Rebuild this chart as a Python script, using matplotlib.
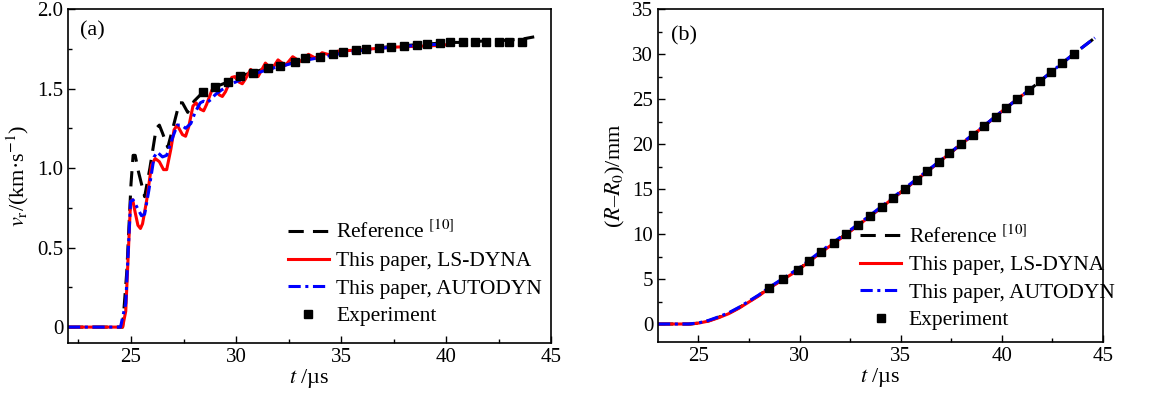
import matplotlib
matplotlib.use('Agg')
import matplotlib.pyplot as plt
from matplotlib.ticker import MultipleLocator, FuncFormatter

plt.rcParams['font.family'] = ['Liberation Serif', 'DejaVu Serif']
plt.rcParams['mathtext.fontset'] = 'stix'

# (a) radial velocity
ref_t_a = [22, 24.6, 24.8, 25.0, 25.1, 25.2, 25.35, 25.65, 25.9, 26.2, 26.35, 26.5, 26.75,
           27.05, 27.3, 27.45, 27.7, 28.0, 28.45, 29.0, 29.6, 30.2, 30.8, 31.5, 32.1, 32.8,
           33.3, 34.0, 34.6, 35.1, 35.7, 36.2, 36.8, 37.4, 38.0, 38.6, 39.1, 39.7, 40.2,
           40.8, 41.4, 41.9, 42.5, 43.0, 43.6, 44.2]
ref_v_a = [0, 0, 0.35, 0.9, 1.08, 1.08, 0.98, 0.82, 1.0, 1.25, 1.27, 1.22, 1.13,
           1.28, 1.41, 1.41, 1.35, 1.42, 1.48, 1.51, 1.54, 1.58, 1.60, 1.63, 1.645, 1.665,
           1.685, 1.70, 1.715, 1.73, 1.74, 1.75, 1.755, 1.765, 1.77, 1.775, 1.78, 1.785, 1.79,
           1.79, 1.795, 1.80, 1.80, 1.805, 1.81, 1.825]

lsdyna_t_a = [22, 24.6, 24.75, 24.98, 25.08, 25.2, 25.33, 25.45, 25.55, 25.75, 25.98, 26.15,
              26.35, 26.55, 26.7, 26.9, 27.05, 27.2, 27.45, 27.6, 27.75, 27.95, 28.1, 28.3,
              28.46, 28.6, 28.85, 29.0, 29.2, 29.35, 29.5, 29.8, 29.95, 30.15, 30.3, 30.45,
              30.7, 31.05, 31.4, 31.7, 32.0, 32.35, 32.7, 33.05, 33.45, 33.8, 34.1, 34.5,
              34.85, 35.5, 36.5, 37.5, 38.5, 39.5, 40.0]
lsdyna_v_a = [0, 0, 0.1, 0.79, 0.80, 0.72, 0.64, 0.62, 0.65, 0.80, 1.02, 1.06, 1.04, 0.99,
              0.99, 1.12, 1.24, 1.27, 1.21, 1.20, 1.26, 1.39, 1.41, 1.37, 1.36, 1.40, 1.49,
              1.50, 1.46, 1.45, 1.48, 1.57, 1.575, 1.54, 1.53, 1.56, 1.62, 1.575, 1.66, 1.62,
              1.68, 1.645, 1.70, 1.67, 1.715, 1.69, 1.725, 1.71, 1.735, 1.74, 1.75, 1.76,
              1.765, 1.77, 1.775]

autodyn_t_a = [22, 24.5, 24.75, 24.98, 25.1, 25.3, 25.5, 25.65, 25.85, 26.1, 26.25, 26.5,
               26.7, 26.95, 27.2, 27.4, 27.6, 27.85, 28.05, 28.3, 28.45, 28.6, 28.8, 29.0,
               29.3, 29.8, 30.3, 30.8, 31.3, 31.8, 32.3, 33.0, 34.0, 35.0, 36.0, 37.0, 38.0,
               39.0, 40.2]
autodyn_v_a = [0, 0, 0.15, 0.79, 0.80, 0.75, 0.70, 0.71, 0.86, 1.07, 1.10, 1.07, 1.08,
               1.18, 1.27, 1.27, 1.25, 1.28, 1.35, 1.41, 1.42, 1.41, 1.43, 1.46, 1.49, 1.53,
               1.56, 1.59, 1.61, 1.63, 1.645, 1.67, 1.695, 1.72, 1.74, 1.755, 1.765, 1.775,
               1.78]

exp_t_a = [28.45, 29.0, 29.6, 30.2, 30.8, 31.5, 32.1, 32.8, 33.3, 34.0, 34.6, 35.1, 35.7, 36.2,
           36.8, 37.4, 38.0, 38.6, 39.1, 39.7, 40.2, 40.8, 41.4, 41.9, 42.5, 43.0, 43.6]
exp_v_a = [1.48, 1.51, 1.54, 1.58, 1.60, 1.63, 1.64, 1.665, 1.69, 1.70, 1.72, 1.73, 1.74, 1.75,
           1.755, 1.76, 1.77, 1.775, 1.78, 1.785, 1.79, 1.79, 1.795, 1.795, 1.795, 1.795, 1.795]

# (b) radial displacement
ref_t_b = [23, 24.6, 25.0, 25.5, 26.0, 26.5, 27.0, 27.5, 28.0, 28.48, 29.9, 31.06, 32.3, 33.5,
           34.64, 35.78, 36.9, 38.0, 39.13, 40.2, 41.36, 42.44, 43.55, 44.6]
ref_r_b = [0, 0, 0.1, 0.35, 0.75, 1.2, 1.8, 2.5, 3.2, 4.0, 6.0, 8.0, 10, 12,
           14, 16, 18, 20, 22, 24, 26, 28, 30, 31.8]

lsdyna_t_b = [23, 24.6, 25.0, 25.5, 26.0, 26.5, 27.0, 27.5, 28.0, 28.48, 29.9, 31.06, 32.3,
              33.5, 34.64, 35.78, 36.9, 38.0, 39.13, 40.2, 41.0]
lsdyna_r_b = [0, 0, 0.1, 0.32, 0.7, 1.15, 1.75, 2.45, 3.15, 3.95, 5.95, 7.95, 9.95,
              12, 14, 16, 18, 20, 22, 24, 25.4]

autodyn_t_b = [23, 24.5, 25.0, 25.5, 26.0, 26.5, 27.0, 27.5, 28.0, 28.48, 29.9, 31.06, 32.3,
               33.5, 34.64, 35.78, 36.9, 38.0, 39.13, 40.2, 41.36, 42.44, 43.55, 44.6]
autodyn_r_b = [0, 0, 0.12, 0.4, 0.8, 1.25, 1.85, 2.55, 3.25, 4.05, 6.1, 8.1, 10.1,
               12.1, 14.1, 16.1, 18.05, 20.05, 22.05, 24.0, 26.0, 28.0, 30.0, 31.8]

exp_t_b = [28.48, 29.2, 29.9, 30.47, 31.06, 31.7, 32.3, 32.88, 33.5, 34.07, 34.64, 35.2, 35.78,
           36.3, 36.9, 37.4, 38.0, 38.57, 39.13, 39.7, 40.2, 40.77, 41.36, 41.9, 42.44, 42.96,
           43.55]
exp_r_b = [4, 5, 6, 7, 8, 9, 10, 11, 12, 13, 14, 15, 16, 17, 18, 19, 20, 21, 22, 23, 24, 25,
           26, 27, 28, 29, 30]

labels = ['Reference $^{[10]}$', 'This paper, LS-DYNA', 'This paper, AUTODYN', 'Experiment']

fig = plt.figure(figsize=(11.72, 3.96), dpi=100)
ax1 = fig.add_axes([68 / 1172, 1 - 343 / 396, 483 / 1172, 334 / 396])
ax2 = fig.add_axes([658 / 1172, 1 - 342 / 396, 445 / 1172, 333 / 396])


def draw(ax, series, exp, leg_y):
    (rt, rv), (lt, lv), (at, av) = series
    ax.plot(rt, rv, color='black', lw=2.2, ls=(0, (5, 3)), label=labels[0])
    ax.plot(lt, lv, color='#ff0000', lw=2.2, label=labels[1])
    ax.plot(at, av, color='#0000ff', lw=2.2, ls=(0, (4, 1.5, 1, 1.5)), label=labels[2])
    ax.plot(exp[0], exp[1], 's', color='black', ms=6, ls='none', label=labels[3])
    ax.tick_params(which='both', direction='in', top=False, right=False,
                   labelsize=15)
    ax.tick_params(which='major', length=5, width=1)
    ax.tick_params(which='minor', length=3, width=1)
    for s in ax.spines.values():
        s.set_linewidth(1.2)
    ax.set_xlabel('$t$ /µs', fontsize=16, labelpad=0)
    ax.legend(loc='lower left', bbox_to_anchor=(0.455, leg_y), frameon=False, fontsize=15.5,
              handlelength=1.9, handletextpad=0.35, labelspacing=0.35, borderpad=0,
              borderaxespad=0)


draw(ax1, [(ref_t_a, ref_v_a), (lsdyna_t_a, lsdyna_v_a), (autodyn_t_a, autodyn_v_a)],
     (exp_t_a, exp_v_a), 0.05)
ax1.set_xlim(22, 45)
ax1.set_ylim(-0.1, 2.0)
ax1.xaxis.set_major_locator(MultipleLocator(5))
ax1.xaxis.set_minor_locator(MultipleLocator(2.5))
ax1.yaxis.set_major_locator(MultipleLocator(0.5))
ax1.yaxis.set_minor_locator(MultipleLocator(0.25))
ax1.yaxis.set_major_formatter(FuncFormatter(lambda v, p: '0' if abs(v) < 1e-9 else f'{v:.1f}'))
ax1.set_ylabel('$v_\\mathrm{r}$/(km·s$^{-1}$)', fontsize=16, labelpad=4)
ax1.text(0.025, 0.92, '(a)', transform=ax1.transAxes, fontsize=16)

draw(ax2, [(ref_t_b, ref_r_b), (lsdyna_t_b, lsdyna_r_b), (autodyn_t_b, autodyn_r_b)],
     (exp_t_b, exp_r_b), 0.035)
ax2.set_xlim(23, 45)
ax2.set_ylim(-2, 35)
ax2.xaxis.set_major_locator(MultipleLocator(5))
ax2.xaxis.set_minor_locator(MultipleLocator(2.5))
ax2.yaxis.set_major_locator(MultipleLocator(5))
ax2.yaxis.set_minor_locator(MultipleLocator(2.5))
ax2.set_ylabel('($R$–$R_0$)/mm', fontsize=16, labelpad=4)
ax2.text(0.03, 0.905, '(b)', transform=ax2.transAxes, fontsize=16)

fig.savefig('out.png', dpi=100)
